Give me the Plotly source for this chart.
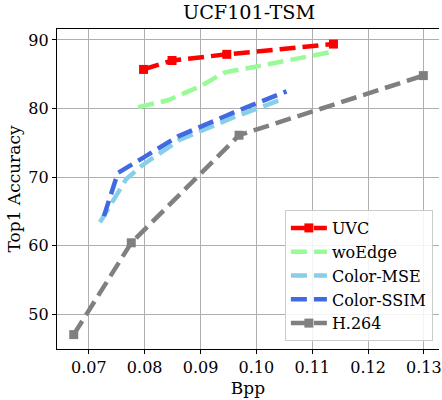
import plotly.graph_objects as go

# Data
uvc_x = [0.0798, 0.0849, 0.0947, 0.1138]
uvc_y = [85.7, 87.0, 87.9, 89.4]

woedge_x = [0.0788, 0.0841, 0.0903, 0.0942, 0.0998, 0.1138]
woedge_y = [80.2, 81.2, 83.4, 85.2, 86.1, 88.3]

mse_x = [0.0720, 0.0767, 0.0797, 0.0862, 0.0962, 0.1048]
mse_y = [63.4, 69.7, 71.8, 75.4, 78.8, 81.4]

ssim_x = [0.0727, 0.0752, 0.0797, 0.0859, 0.0959, 0.1054]
ssim_y = [64.3, 70.6, 72.8, 75.9, 79.4, 82.5]

h264_x = [0.0673, 0.0776, 0.0969, 0.1299]
h264_y = [47.0, 60.4, 76.1, 84.8]

x_ticks = [0.07, 0.08, 0.09, 0.10, 0.11, 0.12, 0.13]
y_ticks = [50, 60, 70, 80, 90]

FONT = "DejaVu Serif"
DASH = "16px,7px"
LW = 4.5

fig = go.Figure()
fig.add_trace(go.Scatter(x=uvc_x, y=uvc_y, name="UVC", mode="lines+markers",
                         line=dict(color="#ff0000", width=LW, dash=DASH),
                         marker=dict(symbol="square", size=9, color="#ff0000")))
fig.add_trace(go.Scatter(x=woedge_x, y=woedge_y, name="woEdge", mode="lines",
                         line=dict(color="#98fb98", width=LW, dash=DASH, shape="spline", smoothing=0.3)))
fig.add_trace(go.Scatter(x=mse_x, y=mse_y, name="Color-MSE", mode="lines",
                         line=dict(color="#87ceeb", width=LW, dash=DASH)))
fig.add_trace(go.Scatter(x=ssim_x, y=ssim_y, name="Color-SSIM", mode="lines",
                         line=dict(color="#4169e1", width=LW, dash=DASH)))
fig.add_trace(go.Scatter(x=h264_x, y=h264_y, name="H.264", mode="lines+markers",
                         line=dict(color="#808080", width=LW, dash=DASH),
                         marker=dict(symbol="square", size=9, color="#808080")))

fig.update_layout(
    width=442, height=400,
    margin=dict(l=57, r=0, t=29, b=51),
    paper_bgcolor="white", plot_bgcolor="white",
    font=dict(family=FONT, color="black"),
    title=dict(text="UCF101-TSM", x=0.5635, xanchor="center", y=0.97, yanchor="middle",
               font=dict(family=FONT, size=19.2, color="black")),
    showlegend=True,
    legend=dict(x=0.984, xanchor="right", y=0.025, yanchor="bottom",
                bgcolor="rgba(255,255,255,0.85)", bordercolor="#cccccc", borderwidth=1,
                itemwidth=36,
                font=dict(family=FONT, size=16, color="black")),
)
fig.update_xaxes(range=[0.0643, 0.1327], tickvals=x_ticks, ticktext=[f"{v:.2f}" for v in x_ticks],
                 ticklabeloverflow="allow",
                 showgrid=True, gridcolor="#b0b0b0", gridwidth=1,
                 showline=True, linecolor="black", linewidth=1.2, mirror=True,
                 ticks="outside", ticklen=4, tickcolor="black",
                 tickfont=dict(family=FONT, size=16, color="black"),
                 title=dict(text="Bpp", font=dict(family=FONT, size=17, color="black"), standoff=5),
                 zeroline=False)
fig.update_yaxes(range=[44.9, 91.6], tickvals=y_ticks,
                 showgrid=True, gridcolor="#b0b0b0", gridwidth=1,
                 showline=True, linecolor="black", linewidth=1.2, mirror=False,
                 ticks="outside", ticklen=4, tickcolor="black",
                 tickfont=dict(family=FONT, size=16, color="black"),
                 title=dict(text="Top1 Accuracy", font=dict(family=FONT, size=17, color="black"), standoff=3),
                 zeroline=False)

fig.write_html("out.html")
